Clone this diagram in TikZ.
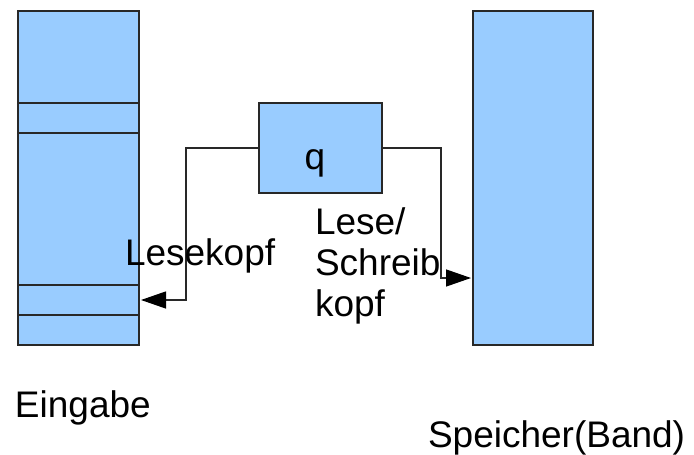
\documentclass[tikz,border=0pt]{standalone}
\usepackage{fontspec}
\setmainfont{Liberation Sans}
\usetikzlibrary{arrows.meta, positioning}

\definecolor{bandblue}{RGB}{153,204,255}
\definecolor{rand}{RGB}{40,40,40}

\begin{document}
\begin{tikzpicture}[
        x=1pt, y=-1pt,
        every node/.style={inner sep=0pt, outer sep=0pt},
        cell/.style={rectangle, draw=rand, fill=bandblue, line width=1.3pt, minimum width=121pt},
        state/.style={rectangle, draw=rand, fill=bandblue, line width=1.3pt, minimum width=123pt, minimum height=90pt},
        label/.style={font=\fontsize{37}{41}\selectfont, align=left},
        arr/.style={draw=rand, line width=1.3pt, -{Triangle[length=25pt, width=17pt, color=black]}, shorten >=2pt}
    ]
        \useasboundingbox (0,0) rectangle (694,455);

        % Eingabeband (linke Spalte, fuenf Zellen)
        \node (c1) [cell, minimum height=92pt, anchor=north west] at (18,11) {};
        \node (c2) [cell, minimum height=30pt, below=0pt of c1] {};
        \node (c3) [cell, minimum height=152pt, below=0pt of c2] {};
        \node (c4) [cell, minimum height=30pt, below=0pt of c3] {};
        \node (c5) [cell, minimum height=30pt, below=0pt of c4] {};

        % Speicher (rechte Spalte)
        \node (speicher) [cell, minimum width=120pt, minimum height=334pt, anchor=north west] at (473,11) {};

        % Zustand
        \node (q) [state, anchor=north west] at (259,103) {};
        \node (qtext) [label] at (315,163) {q};

        % Koepfe
        \coordinate (schreib) at ([yshift=-100pt]speicher.west);
        \draw [arr] (q.west) -- ++(-73,0) |- (c4.east);
        \draw [arr] (q.east) -- ++(59,0) |- (schreib);

        % Beschriftungen
        \node (lesekopf) [label, anchor=base west] at (125,265) {Lesekopf};
        \node (lskopf) [label, anchor=north west] at (315,208) {Lese/\\Schreib\\kopf};
        \node (eingabe) [label, anchor=base west] at (15,417) {Eingabe};
        \node (band) [label, anchor=base west] at (428,447) {Speicher(Band)};
\end{tikzpicture}
\end{document}
